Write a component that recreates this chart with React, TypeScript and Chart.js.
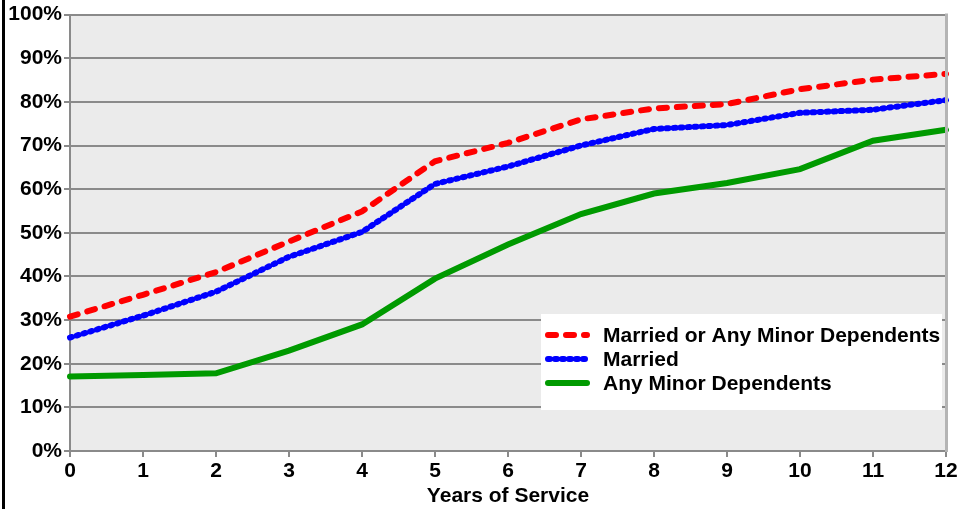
import React, { useEffect, useRef } from "react";
import { Chart, registerables } from "chart.js";

Chart.register(...registerables);

const years = ["0", "1", "2", "3", "4", "5", "6", "7", "8", "9", "10", "11", "12"];
const marriedOrDependents = [30.8, 35.8, 41.0, 48.0, 54.9, 66.4, 70.6, 76.0, 78.5, 79.5, 82.9, 85.1, 86.4];
const married = [26.0, 31.0, 36.5, 44.5, 50.2, 61.2, 65.2, 70.0, 73.8, 74.7, 77.5, 78.2, 80.4];
const anyMinorDependents = [17.1, 17.4, 17.8, 23.0, 29.0, 39.5, 47.3, 54.3, 59.0, 61.4, 64.6, 71.1, 73.6];

const FONT = "'Liberation Sans', Arial, Helvetica, sans-serif";
const TEXT_SIZE = 21;

const framePlugin = {
  id: "frame",
  beforeDraw(chart: any) {
    const { ctx, chartArea } = chart;
    ctx.save();
    ctx.fillStyle = "#ffffff";
    ctx.fillRect(0, 0, chart.width, chart.height);
    ctx.fillStyle = "#ebebeb";
    ctx.fillRect(chartArea.left, chartArea.top, chartArea.right - chartArea.left, chartArea.bottom - chartArea.top);
    // black rule along the left edge
    ctx.fillStyle = "#000000";
    ctx.fillRect(2, 0, 3, chart.height);
    ctx.restore();
  },
  afterDraw(chart: any) {
    const { ctx, chartArea } = chart;
    ctx.save();
    ctx.strokeStyle = "#b4b4b4";
    ctx.lineWidth = 3;
    ctx.beginPath();
    ctx.moveTo(chartArea.right + 0.5, chartArea.top - 1);
    ctx.lineTo(chartArea.right + 0.5, chartArea.bottom + 1);
    ctx.stroke();

    // legend box
    const boxLeft = chartArea.right - 405;
    const boxTop = chartArea.bottom - 137;
    ctx.fillStyle = "#ffffff";
    ctx.fillRect(boxLeft, boxTop, 401, 96);
    chart.data.datasets.forEach((ds: any, i: number) => {
      const y = boxTop + 21 + i * 24;
      ctx.strokeStyle = ds.borderColor;
      ctx.lineWidth = ds.borderWidth;
      ctx.lineCap = ds.borderCapStyle || "butt";
      ctx.setLineDash(ds.borderDash || []);
      ctx.beginPath();
      ctx.moveTo(boxLeft + 7, y);
      ctx.lineTo(boxLeft + 46, y);
      ctx.stroke();
      ctx.setLineDash([]);
      ctx.fillStyle = "#000000";
      ctx.font = `bold ${TEXT_SIZE}px ${FONT}`;
      ctx.textBaseline = "middle";
      ctx.textAlign = "left";
      ctx.fillText(ds.label, boxLeft + 62, y + 1);
    });
    ctx.restore();
  },
};

export default function App() {
  const ref = useRef<HTMLCanvasElement | null>(null);

  useEffect(() => {
    const canvas = ref.current;
    if (!canvas) return;
    const chart = new Chart(canvas, {
      type: "line",
      data: {
        labels: years,
        datasets: [
          {
            label: "Married or Any Minor Dependents",
            data: marriedOrDependents,
            borderColor: "#ff0000",
            borderWidth: 6,
            borderDash: [8, 10],
            borderCapStyle: "round",
            pointRadius: 0,
            tension: 0,
          },
          {
            label: "Married",
            data: married,
            borderColor: "#0000ff",
            borderWidth: 6,
            borderDash: [2, 5],
            borderCapStyle: "round",
            pointRadius: 0,
            tension: 0,
          },
          {
            label: "Any Minor Dependents",
            data: anyMinorDependents,
            borderColor: "#009a00",
            borderWidth: 6,
            borderCapStyle: "round",
            pointRadius: 0,
            tension: 0,
          },
        ],
      },
      options: {
        responsive: false,
        animation: false,
        layout: { padding: { left: 0, top: 12, right: 16, bottom: 0 } },
        plugins: {
          legend: { display: false },
          tooltip: { enabled: false },
        },
        scales: {
          x: {
            offset: false,
            grid: {
              drawOnChartArea: false,
              drawTicks: true,
              tickLength: 6,
              color: "#8a8a8a",
              lineWidth: 2,
            },
            border: { color: "#8a8a8a", width: 2 },
            ticks: {
              color: "#000000",
              font: { family: FONT, size: TEXT_SIZE, weight: "bold" },
              padding: 2,
              maxRotation: 0,
              autoSkip: false,
            },
            title: {
              display: true,
              text: "Years of Service",
              color: "#000000",
              font: { family: FONT, size: TEXT_SIZE, weight: "bold" },
              padding: { top: 0, bottom: 0 },
            },
            afterFit(scale: any) {
              scale.height = 58;
            },
          },
          y: {
            min: 0,
            max: 100,
            grid: {
              color: "#8a8a8a",
              lineWidth: 2,
              tickLength: 6,
            },
            border: { color: "#8a8a8a", width: 2 },
            ticks: {
              stepSize: 10,
              color: "#000000",
              font: { family: FONT, size: TEXT_SIZE, weight: "bold" },
              padding: 2,
              callback: (v: any) => `${v}%`,
            },
            afterFit(scale: any) {
              scale.width = 70;
            },
          },
        },
      },
      plugins: [framePlugin],
    });
    return () => chart.destroy();
  }, []);

  return (
    <div style={{ position: "fixed", left: 0, top: 0, width: 962, height: 509, background: "#ffffff" }}>
      <canvas ref={ref} width={962} height={509} style={{ display: "block" }} />
    </div>
  );
}
